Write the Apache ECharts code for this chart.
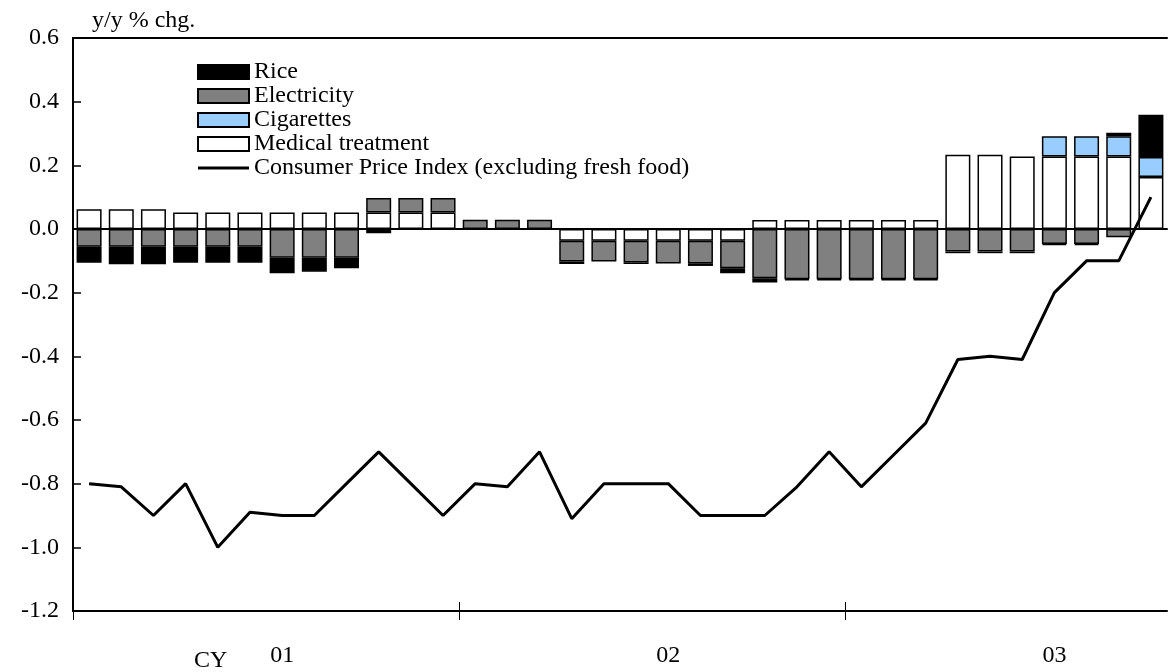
<!DOCTYPE html>
<html>
<head>
<meta charset="utf-8">
<script src="https://cdn.jsdelivr.net/npm/echarts@6/dist/echarts.min.js"></script>
<style>
html,body{margin:0;padding:0;background:#fff;}
#chart{width:1169px;height:672px;}
</style>
</head>
<body>
<div id="chart"></div>
<script>
// Categories: Jan 2001 .. Oct 2003
var months = [
  '2001/01','2001/02','2001/03','2001/04','2001/05','2001/06','2001/07','2001/08','2001/09','2001/10','2001/11','2001/12',
  '2002/01','2002/02','2002/03','2002/04','2002/05','2002/06','2002/07','2002/08','2002/09','2002/10','2002/11','2002/12',
  '2003/01','2003/02','2003/03','2003/04','2003/05','2003/06','2003/07','2003/08','2003/09','2003/10'
];
var yearLabels = ['01', '02', '03'];

var rice = [
  -0.050,-0.055,-0.055,-0.050,-0.050,-0.050,-0.049,-0.044,-0.033,-0.013,null,null,
  null,null,null,-0.008,null,-0.005,null,-0.008,-0.016,-0.013,-0.003,-0.003,
  -0.003,-0.003,-0.003,-0.005,-0.005,-0.005,-0.004,-0.004,0.011,0.133
];
var electricity = [
  -0.056,-0.056,-0.056,-0.056,-0.056,-0.056,-0.090,-0.090,-0.090,0.045,0.045,0.045,
  0.029,0.029,0.029,-0.065,-0.065,-0.068,-0.071,-0.071,-0.086,-0.155,-0.158,-0.158,
  -0.158,-0.158,-0.158,-0.071,-0.071,-0.071,-0.047,-0.047,-0.026,null
];
var cigarettes = [
  null,null,null,null,null,null,null,null,null,null,null,null,
  null,null,null,null,null,null,null,null,null,null,null,null,
  null,null,null,null,null,null,0.063,0.063,0.063,0.063
];
var medical = [
  0.062,0.062,0.062,0.052,0.052,0.052,0.052,0.052,0.052,0.052,0.052,0.052,
  null,null,null,-0.037,-0.037,-0.037,-0.037,-0.037,-0.037,0.028,0.028,0.028,
  0.028,0.028,0.028,0.233,0.233,0.228,0.228,0.228,0.228,0.163
];
var cpi = [
  -0.80,-0.81,-0.90,-0.80,-1.00,-0.89,-0.90,-0.90,-0.80,-0.70,-0.80,-0.90,
  -0.80,-0.81,-0.70,-0.91,-0.80,-0.80,-0.80,-0.90,-0.90,-0.90,-0.81,-0.70,
  -0.81,-0.71,-0.61,-0.41,-0.40,-0.41,-0.20,-0.10,-0.10,0.10
];

var FONT = 'Liberation Serif, Times New Roman, serif';
var FS = 24;
var boundaries = months.concat(['end']);

var chart = echarts.init(document.getElementById('chart'), null, {renderer: 'canvas'});

function barSeries(name, data, color) {
  return {
    name: name, type: 'bar', stack: 'total', data: data,
    xAxisIndex: 0, yAxisIndex: 0,
    barWidth: 25,
    itemStyle: {color: color, borderColor: '#000', borderWidth: 1.5},
    emphasis: {disabled: true}
  };
}

var option = {
  animation: false,
  backgroundColor: '#fff',
  textStyle: {fontFamily: FONT, color: '#000'},
  grid: {left: 73, right: 2, top: 38, bottom: 61, containLabel: false},
  legend: {
    left: 192, top: 55, orient: 'vertical',
    itemWidth: 51, itemHeight: 14, itemGap: 0,
    textStyle: {fontFamily: FONT, fontSize: FS, color: '#000', lineHeight: 23.4},
    data: [
      {name: 'Rice', icon: 'rect'},
      {name: 'Electricity', icon: 'rect'},
      {name: 'Cigarettes', icon: 'rect'},
      {name: 'Medical treatment', icon: 'rect'},
      {name: 'Consumer Price Index (excluding fresh food)', icon: 'path://M0 0H51V3H0Z'}
    ],
    selectedMode: false
  },
  xAxis: [
    { // main bottom axis with labels
      type: 'category', data: months, position: 'bottom', boundaryGap: true,
      axisLine: {show: true, onZero: false, lineStyle: {color: '#000', width: 2}},
      axisTick: {show: false},
      axisLabel: {
        interval: function (i) { return i % 12 === 6; },
        formatter: function (v, i) { return yearLabels[Math.floor(i / 12)]; },
        fontFamily: FONT, fontSize: FS, color: '#000', margin: 33
      },
      splitLine: {show: false}
    },
    { // outward year ticks
      type: 'category', data: boundaries, position: 'bottom', boundaryGap: false,
      axisLine: {show: false, onZero: false},
      axisTick: {show: true, inside: false, length: 9, interval: function (i) { return i % 12 === 0 && i < 34; }, lineStyle: {color: '#000', width: 1}},
      axisLabel: {show: false}, splitLine: {show: false}
    },
    { // inward year ticks
      type: 'category', data: boundaries, position: 'bottom', boundaryGap: false,
      axisLine: {show: false, onZero: false},
      axisTick: {show: true, inside: true, length: 9, interval: function (i) { return i % 12 === 0 && i < 34; }, lineStyle: {color: '#000', width: 1}},
      axisLabel: {show: false}, splitLine: {show: false}
    },
    { // zero line
      type: 'category', data: months, position: 'bottom', z: 3,
      axisLine: {show: true, onZero: true, lineStyle: {color: '#000', width: 2}},
      axisTick: {show: false}, axisLabel: {show: false}, splitLine: {show: false}
    },
    { // top frame line
      type: 'category', data: months, position: 'top',
      axisLine: {show: true, onZero: false, lineStyle: {color: '#000', width: 2}},
      axisTick: {show: false}, axisLabel: {show: false}, splitLine: {show: false}
    }
  ],
  yAxis: {
    type: 'value', min: -1.2, max: 0.6, interval: 0.2,
    name: 'y/y % chg.', nameLocation: 'end', nameGap: 5,
    nameTextStyle: {fontFamily: FONT, fontSize: FS, color: '#000', align: 'left', padding: [0, 0, 0, 19]},
    axisLine: {show: true, lineStyle: {color: '#000', width: 2}},
    axisTick: {show: true, inside: true, length: 8, lineStyle: {color: '#000', width: 1.5}},
    axisLabel: {
      fontFamily: FONT, fontSize: FS, color: '#000', margin: 14,
      formatter: function (v) { return Math.abs(v) < 1e-9 ? '0.0' : v.toFixed(1); }
    },
    splitLine: {show: false}
  },
  graphic: [
    {type: 'text', left: 194, top: 649, style: {text: 'CY', fontFamily: FONT, fontSize: FS, fill: '#000'}}
  ],
  series: [
    barSeries('Medical treatment', medical, '#ffffff'),
    barSeries('Electricity', electricity, '#808080'),
    barSeries('Cigarettes', cigarettes, '#99ccff'),
    barSeries('Rice', rice, '#000000'),
    {
      name: 'Consumer Price Index (excluding fresh food)', type: 'line', data: cpi,
      xAxisIndex: 0, yAxisIndex: 0, z: 4,
      symbol: 'none', showSymbol: false,
      lineStyle: {color: '#000', width: 3},
      itemStyle: {color: '#000'},
      emphasis: {disabled: true}
    }
  ]
};
chart.setOption(option);
</script>
</body>
</html>
